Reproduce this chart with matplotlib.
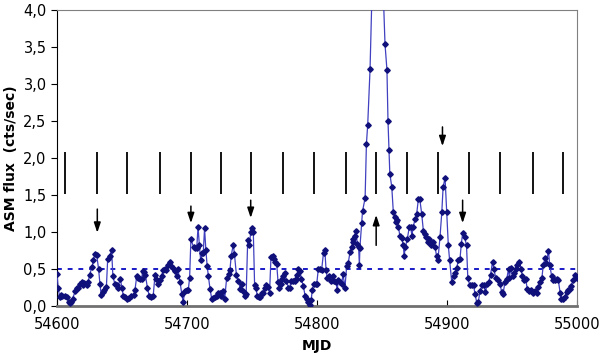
import numpy as np
import matplotlib
matplotlib.use("Agg")
import matplotlib.pyplot as plt

# ASM light curve (MJD, cts/sec)
mjd = [54600, 54601, 54602, 54603, 54604, 54606, 54608, 54609, 54610, 54611,
       54612, 54614, 54615, 54616, 54618, 54619, 54620, 54621, 54623, 54624,
       54625, 54627, 54628, 54629, 54630.5, 54632, 54633, 54634, 54635, 54636.5,
       54638, 54639, 54640.5, 54642, 54643, 54644.5, 54646, 54647, 54648.5, 54650,
       54651, 54652.5, 54654, 54655.5, 54657, 54659, 54660, 54661.3, 54662.5, 54664,
       54665, 54666, 54667, 54668, 54669.5, 54671, 54672.5, 54674, 54675.4, 54676.5,
       54677.5, 54679, 54680.5, 54681.5, 54683, 54684, 54685.5, 54687, 54688, 54689.5,
       54691, 54692, 54693, 54694.6, 54696, 54697, 54698.5, 54700, 54701, 54702,
       54703, 54705, 54706, 54707.5, 54708.5, 54709.5, 54710.5, 54711.5, 54712.5, 54713.5,
       54714.5, 54715.5, 54716.5, 54717.7, 54719, 54720, 54721.5, 54723, 54724, 54725.5,
       54726.5, 54728, 54729, 54730.5, 54732, 54733, 54734, 54735.6, 54736.5, 54738,
       54739.5, 54741, 54742, 54743, 54744.6, 54745.5, 54746.7, 54748, 54749, 54750,
       54751, 54752, 54753, 54754, 54755, 54756, 54757.5, 54758.7, 54760, 54761,
       54762.5, 54763.5, 54764.6, 54766, 54767, 54768, 54769, 54770, 54771, 54772,
       54773, 54774, 54775, 54776.5, 54778, 54779, 54780, 54781.5, 54783, 54783.6,
       54784.6, 54785.6, 54787, 54788, 54789.5, 54790.8, 54792, 54793, 54794.6, 54795.5,
       54796.4, 54797.5, 54799, 54799.8, 54801, 54802, 54803.5, 54805, 54806, 54807,
       54808, 54809, 54810.5, 54812, 54813, 54814.6, 54815.5, 54816.5, 54817.7, 54819,
       54820, 54821.5, 54822.8, 54824, 54825.4, 54826.7, 54827.4, 54828, 54829, 54830,
       54831, 54832, 54832.6, 54833, 54834.4, 54835, 54837, 54838, 54839, 54840.8,
       54846, 54852.3, 54853.8, 54854.6, 54855.4, 54856, 54857.5, 54858.7, 54860, 54861,
       54861.8, 54862.6, 54863.8, 54865, 54866.4, 54867, 54868, 54869.5, 54871, 54872,
       54873, 54874, 54875.4, 54876.7, 54878, 54879, 54880.5, 54881.8, 54883, 54884,
       54885.5, 54886.5, 54888, 54889, 54890.8, 54892, 54893, 54894.6, 54896, 54897,
       54898.5, 54899.8, 54901, 54902, 54903.6, 54905, 54906, 54907.5, 54908.7, 54910,
       54911, 54912, 54913.5, 54915, 54916, 54917.5, 54919, 54920.5, 54921.5, 54923,
       54924, 54925.4, 54927, 54928.5, 54929.5, 54931, 54932, 54933.5, 54935, 54936,
       54937.5, 54939, 54940.8, 54942, 54943, 54944.6, 54946, 54947.3, 54948, 54949,
       54950.5, 54951.5, 54953, 54954, 54955.6, 54957, 54958, 54959.5, 54960.5, 54961.8,
       54963, 54964.5, 54966, 54967.5, 54969, 54970, 54971.5, 54973, 54974, 54975.4,
       54976.5, 54978, 54979, 54980.5, 54981.5, 54983, 54984.5, 54985.6, 54987, 54988,
       54989.5, 54990.5, 54992, 54993, 54994.6, 54995.5, 54997, 54998.5, 54999.8]
flux = [0.43, 0.24, 0.12, 0.15, 0.13, 0.14, 0.12, 0.05, 0.04, 0.05,
        0.10, 0.20, 0.24, 0.25, 0.30, 0.33, 0.28, 0.31, 0.28, 0.32,
        0.42, 0.53, 0.62, 0.70, 0.69, 0.50, 0.30, 0.15, 0.19, 0.22,
        0.26, 0.64, 0.67, 0.76, 0.40, 0.30, 0.28, 0.25, 0.37, 0.25,
        0.13, 0.12, 0.10, 0.11, 0.13, 0.15, 0.22, 0.40, 0.38, 0.37,
        0.37, 0.47, 0.46, 0.42, 0.25, 0.13, 0.12, 0.14, 0.42, 0.36,
        0.30, 0.35, 0.40, 0.48, 0.50, 0.48, 0.56, 0.60, 0.54, 0.52,
        0.47, 0.41, 0.50, 0.33, 0.16, 0.06, 0.20, 0.22, 0.22, 0.38,
        0.90, 0.80, 0.78, 0.79, 1.07, 0.82, 0.62, 0.72, 0.72, 1.05,
        0.76, 0.54, 0.40, 0.23, 0.10, 0.11, 0.12, 0.13, 0.17, 0.17,
        0.14, 0.20, 0.10, 0.38, 0.43, 0.48, 0.68, 0.83, 0.70, 0.42,
        0.34, 0.23, 0.30, 0.20, 0.14, 0.16, 0.89, 0.82, 1.00, 1.05,
        1.00, 0.28, 0.25, 0.14, 0.12, 0.12, 0.18, 0.18, 0.25, 0.28,
        0.26, 0.18, 0.66, 0.68, 0.63, 0.59, 0.57, 0.33, 0.25, 0.30,
        0.36, 0.40, 0.45, 0.34, 0.25, 0.24, 0.34, 0.34, 0.34, 0.36,
        0.42, 0.50, 0.47, 0.36, 0.27, 0.14, 0.10, 0.05, 0.02, 0.08,
        0.22, 0.30, 0.30, 0.30, 0.50, 0.50, 0.48, 0.72, 0.76, 0.48,
        0.38, 0.40, 0.34, 0.40, 0.34, 0.33, 0.22, 0.35, 0.32, 0.30,
        0.43, 0.25, 0.54, 0.58, 0.73, 0.80, 0.87, 0.91, 0.95, 1.02,
        0.84, 0.80, 0.55, 0.79, 1.12, 1.28, 1.46, 2.19, 2.45, 3.20,
        6.80, 3.54, 3.19, 2.50, 2.11, 1.79, 1.61, 1.27, 1.20, 1.14,
        1.16, 1.07, 0.94, 0.92, 0.82, 0.68, 0.80, 0.91, 1.07, 1.07,
        0.95, 1.07, 1.17, 1.25, 1.45, 1.45, 1.25, 1.02, 0.97, 0.93,
        0.86, 0.90, 0.82, 0.86, 0.80, 0.67, 0.62, 0.93, 1.27, 1.61,
        1.73, 1.27, 0.82, 0.62, 0.33, 0.40, 0.45, 0.52, 0.62, 0.64,
        0.84, 0.98, 0.93, 0.82, 0.38, 0.28, 0.29, 0.28, 0.16, 0.04,
        0.05, 0.20, 0.28, 0.28, 0.19, 0.30, 0.32, 0.42, 0.60, 0.50,
        0.38, 0.35, 0.30, 0.19, 0.16, 0.32, 0.37, 0.50, 0.38, 0.52,
        0.40, 0.45, 0.50, 0.56, 0.60, 0.50, 0.40, 0.35, 0.36, 0.23,
        0.20, 0.21, 0.18, 0.20, 0.18, 0.26, 0.32, 0.38, 0.55, 0.65,
        0.58, 0.75, 0.56, 0.40, 0.35, 0.35, 0.36, 0.35, 0.18, 0.10,
        0.09, 0.12, 0.19, 0.21, 0.23, 0.27, 0.35, 0.42, 0.38]

# periodic markers (vertical bars) and arrows
bar_mjd = [54606, 54631, 54654, 54679, 54703, 54726, 54749, 54774, 54798,
           54822, 54845, 54869, 54893, 54917, 54941, 54966, 54989]
bar_lo, bar_hi = 1.52, 2.08
arrow_mjd = [54631, 54703, 54749, 54845.5, 54896.5, 54912]
arrow_from = [1.31, 1.35, 1.43, 0.82, 2.42, 1.43]
arrow_to = [0.99, 1.12, 1.19, 1.23, 2.16, 1.12]
threshold = 0.5

fig = plt.figure(figsize=(6, 3.56), dpi=100)
ax = fig.add_axes([0.095, 0.1404, 0.8667, 0.8315])

ax.plot(mjd, flux, color='#4040c0', lw=0.9, marker='D', markersize=2.8,
        markerfacecolor='#10107a', markeredgecolor='#10107a', zorder=3)
ax.axhline(threshold, color='#1a1ac8', lw=1.4, ls=(0, (2.5, 3)), zorder=2)
ax.vlines(bar_mjd, bar_lo, bar_hi, color='black', lw=1.3)
for x, y0, y1 in zip(arrow_mjd, arrow_from, arrow_to):
    ax.annotate('', xy=(x, y1), xytext=(x, y0),
                arrowprops=dict(arrowstyle='-|>,head_length=0.6,head_width=0.2',
                                color='black', lw=1.1, shrinkA=0, shrinkB=0))

ax.set_xlim(54600, 55000)
ax.set_ylim(0, 4)
ax.set_xticks([54600, 54700, 54800, 54900, 55000])
ax.set_yticks(np.arange(0, 4.01, 0.5))
ax.set_yticklabels([f'{v:.1f}'.replace('.', ',') for v in np.arange(0, 4.01, 0.5)])
ax.tick_params(axis='x', direction='in', length=4, labelsize=10.5, pad=8)
ax.tick_params(axis='y', direction='out', length=4, labelsize=10.5)

for s in ['top', 'right']:
    ax.spines[s].set_color('#808080')
ax.spines['bottom'].set_color('#707070')
ax.spines['bottom'].set_linewidth(2)
ax.spines['left'].set_color('black')

ax.set_xlabel('MJD', fontsize=10, fontweight='bold', labelpad=5)
ax.set_ylabel('ASM flux  (cts/sec)', fontsize=10, fontweight='bold', labelpad=4)

fig.savefig('out.png', dpi=100)
